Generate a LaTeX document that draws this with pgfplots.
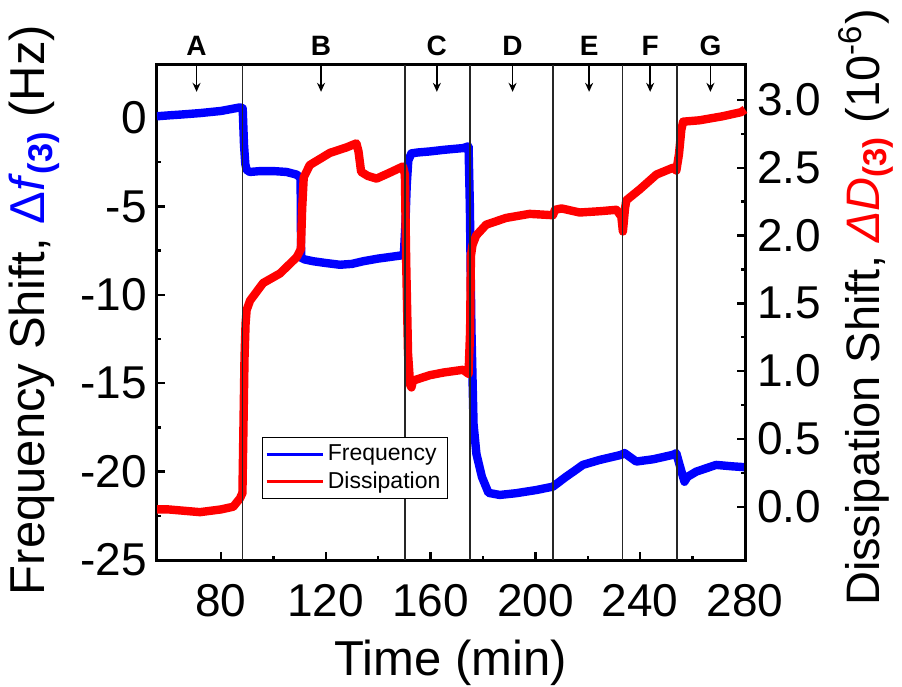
\documentclass[border=0pt]{standalone}
\usepackage{fontspec}
\setmainfont{Liberation Sans}
\usepackage{pgfplots}
\pgfplotsset{compat=1.18}
\usetikzlibrary{arrows.meta}

\pgfplotsset{
  qcm/.style={
    scale only axis, width=294pt, height=247.5pt,
    xmin=55.6, xmax=280,
    tick align=inside,
    major tick length=4pt, minor tick length=2.2pt,
    every tick/.style={black, line width=1.2pt},
    axis line style={line width=1.5pt},
    /pgf/number format/assume math mode=true,
    ticklabel style={font=\fontsize{23}{23}\selectfont, inner sep=0pt},
    label style={font=\fontsize{24.5}{24.5}\selectfont, inner sep=0pt},
  }
}

\begin{document}
\begin{tikzpicture}
% left axis: frequency
\begin{axis}[qcm, name=ax,
  ymin=-25, ymax=3,
  xtick={80,120,...,280}, minor x tick num=1,
  ytick={-25,-20,...,0}, minor y tick num=1,
  xtick pos=left, ytick pos=left,
  xticklabel style={yshift=-12pt},
  yticklabel style={xshift=-5pt},
  xlabel={Time (min)},
  xlabel style={at={(axis description cs:0.5,-0.16)}, anchor=north},
  ylabel={Frequency Shift, \textcolor{blue}{Δ\textit{f}\textsubscript{\textbf{(3)}}} (Hz)},
  ylabel style={at={(axis description cs:-0.165,0.505)}, anchor=south, rotate=0},
]
\addplot[blue, line width=4.2pt, line join=round] coordinates {
  (55.6,0.1) (60,0.15) (65,0.2) (72,0.28) (80,0.4) (87.2,0.6) (88.3,0.55)
  (88.8,-1.5) (89.3,-2.6) (89.8,-2.93) (91,-3.05) (95,-3.0) (100,-3.0)
  (105,-3.05) (108.9,-3.2) (110.4,-3.4) (110.6,-7.9) (112,-8.0) (115.2,-8.1)
  (120,-8.2) (125.4,-8.3) (130,-8.25) (134.3,-8.1) (140,-7.95) (145,-7.85)
  (149.8,-7.75) (150.4,-6) (150.9,-3.8) (151.5,-2.4) (152.7,-2.0) (155,-1.95)
  (159.7,-1.89) (165,-1.8) (172.4,-1.7) (174.5,-1.6) (175.0,-5) (175.6,-12)
  (176.4,-17.3) (177.5,-19) (179.6,-20.3) (182.1,-21.2) (186.4,-21.32)
  (192.7,-21.22) (200.4,-21.04) (206.7,-20.85) (211.8,-20.28) (215,-19.95)
  (218.1,-19.62) (224.5,-19.34) (232.8,-19.05) (234,-18.95) (238.5,-19.43)
  (245,-19.3) (252.5,-19.05) (253.8,-18.96) (255,-19.6) (256.9,-20.57)
  (258,-20.3) (261.4,-20.0) (269,-19.62) (275,-19.7) (280,-19.75)
};
\end{axis}
% right axis: dissipation
\begin{axis}[qcm,
  ymin=-0.393, ymax=3.258,
  axis x line=none, axis y line*=right,
  ytick={0,0.5,...,3}, minor y tick num=1,
  yticklabel style={xshift=6pt, /pgf/number format/.cd, fixed, fixed zerofill, precision=1},
  ylabel={Dissipation Shift, \textcolor{red}{\textit{ΔD}\textsubscript{\textbf{(3)}}} (10\textsuperscript{-6})},
  ylabel style={at={(axis description cs:1.158,0.51)}, anchor=north, rotate=0,
    font=\fontsize{23.5}{23.5}\selectfont},
  clip=false,
  legend style={at={(rel axis cs:0.178,0.248)}, anchor=north west, draw=black,
    line width=0.6pt, font=\fontsize{11.5}{13}\selectfont, inner sep=1.5pt,
    cells={anchor=west}},
  legend image code/.code={\draw[#1, line width=1.3pt] (0pt,0pt) -- (28pt,0pt);},
]
\addlegendimage{blue}
\addlegendentry{Frequency}
\addplot[red, line width=4.2pt, line join=round, forget plot] coordinates {
  (55.6,-0.02) (60,-0.02) (72,-0.04) (80,-0.02) (84.7,0.0) (87.2,0.06)
  (88.2,0.1) (88.6,0.6) (89.0,1.1) (89.4,1.35) (89.8,1.45) (91.1,1.52)
  (96.1,1.65) (102.5,1.72) (108.9,1.84) (110.5,1.9) (111.0,2.2) (111.6,2.43)
  (113.9,2.52) (121.6,2.61) (127.9,2.65) (131.7,2.68) (132.5,2.62)
  (133.5,2.47) (136,2.44) (139.4,2.42) (144,2.46) (149.5,2.51) (150.2,2.45)
  (150.7,1.8) (151.4,1.13) (152.2,0.9) (152.7,0.88) (153.3,0.93) (159.7,0.97)
  (165,0.99) (172.4,1.01) (174.5,0.98) (175.1,1.3) (175.4,1.85) (176,1.93)
  (177.4,2.0) (181.2,2.08) (188.8,2.13) (197.8,2.16) (206.7,2.15)
  (207.5,2.19) (210,2.2) (216.9,2.17) (225,2.18) (230.9,2.19) (232.8,2.14)
  (233.4,2.03) (234.2,2.2) (234.7,2.26) (239.8,2.34) (246.2,2.45)
  (252.5,2.5) (253.8,2.48) (254.8,2.6) (255.7,2.78) (256.4,2.84)
  (262.6,2.85) (271.5,2.88) (278.5,2.91) (280,2.93)
};
\addlegendimage{red}
\addlegendentry{Dissipation}
% stage boundaries
\addplot[forget plot, black!85, line width=0.8pt] coordinates {(88.3,-0.393) (88.3,3.258)};
\addplot[forget plot, black!85, line width=0.8pt] coordinates {(150.2,-0.393) (150.2,3.258)};
\addplot[forget plot, black!85, line width=0.8pt] coordinates {(175.0,-0.393) (175.0,3.258)};
\addplot[forget plot, black!85, line width=0.8pt] coordinates {(206.8,-0.393) (206.8,3.258)};
\addplot[forget plot, black!85, line width=0.8pt] coordinates {(233.3,-0.393) (233.3,3.258)};
\addplot[forget plot, black!85, line width=0.8pt] coordinates {(254.1,-0.393) (254.1,3.258)};
% stage arrows and letters
\draw[line width=0.7pt, -{Stealth[length=4.5pt, width=4pt]}] (axis cs:70.7,3.258) -- (axis cs:70.7,3.06);
\draw[line width=0.7pt, -{Stealth[length=4.5pt, width=4pt]}] (axis cs:118.2,3.258) -- (axis cs:118.2,3.06);
\draw[line width=0.7pt, -{Stealth[length=4.5pt, width=4pt]}] (axis cs:162.4,3.258) -- (axis cs:162.4,3.06);
\draw[line width=0.7pt, -{Stealth[length=4.5pt, width=4pt]}] (axis cs:191.3,3.258) -- (axis cs:191.3,3.06);
\draw[line width=0.7pt, -{Stealth[length=4.5pt, width=4pt]}] (axis cs:220.5,3.258) -- (axis cs:220.5,3.06);
\draw[line width=0.7pt, -{Stealth[length=4.5pt, width=4pt]}] (axis cs:243.8,3.258) -- (axis cs:243.8,3.06);
\draw[line width=0.7pt, -{Stealth[length=4.5pt, width=4pt]}] (axis cs:266.8,3.258) -- (axis cs:266.8,3.06);
\node[font=\bfseries\fontsize{14}{14}\selectfont] at (axis cs:70.7,3.40) {A};
\node[font=\bfseries\fontsize{14}{14}\selectfont] at (axis cs:118.2,3.40) {B};
\node[font=\bfseries\fontsize{14}{14}\selectfont] at (axis cs:162.4,3.40) {C};
\node[font=\bfseries\fontsize{14}{14}\selectfont] at (axis cs:191.3,3.40) {D};
\node[font=\bfseries\fontsize{14}{14}\selectfont] at (axis cs:220.5,3.40) {E};
\node[font=\bfseries\fontsize{14}{14}\selectfont] at (axis cs:243.8,3.40) {F};
\node[font=\bfseries\fontsize{14}{14}\selectfont] at (axis cs:266.8,3.40) {G};
\end{axis}
\pgfresetboundingbox
\path ([shift={(-78.5pt,-63pt)}]ax.south west) rectangle ([shift={(78.5pt,32.5pt)}]ax.north east);
\end{tikzpicture}
\end{document}
